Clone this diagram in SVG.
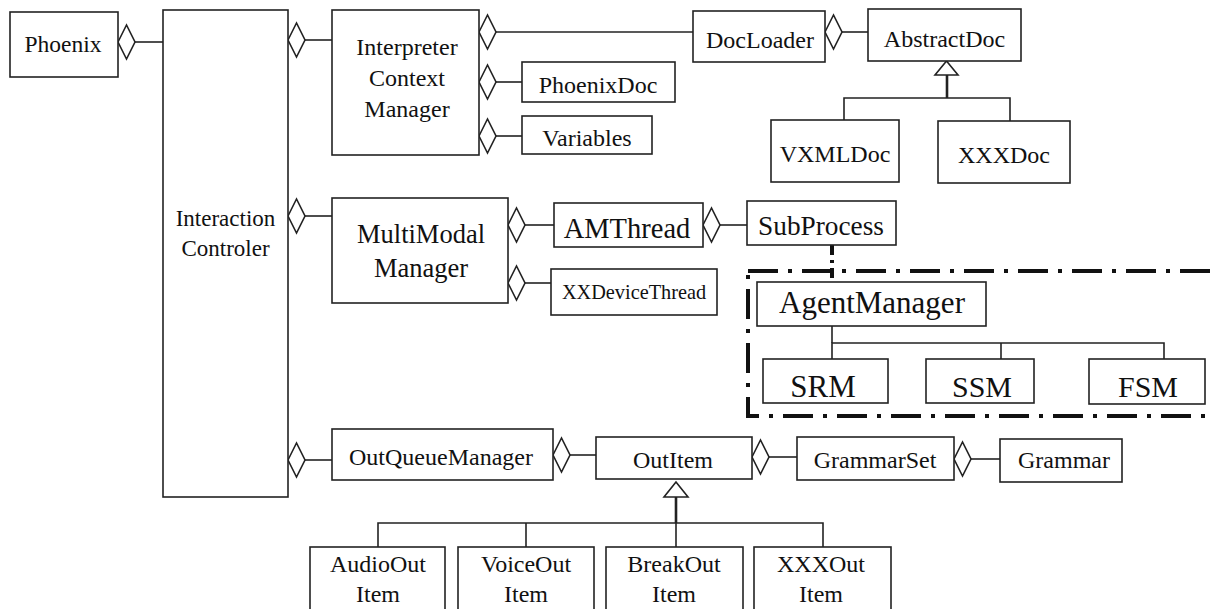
<svg xmlns="http://www.w3.org/2000/svg" xmlns:xlink="http://www.w3.org/1999/xlink" width="1213" height="609" viewBox="0 0 1213 609">
<style>
.box{fill:#fff;stroke:#222;stroke-width:1.6}
.t{font-family:"Liberation Serif","Times New Roman",serif;fill:#111;text-anchor:middle}
.ln{stroke:#222;stroke-width:1.6;fill:none}
.thick{stroke:#222;stroke-width:2.6;fill:none}
.dia{fill:#fff;stroke:#222;stroke-width:1.6}
.tri{fill:#fff;stroke:#222;stroke-width:1.6}
.dd{stroke:#111;stroke-width:4;fill:none;stroke-dasharray:30 10 4 10}
</style>
<defs>
<path id="dia" d="M0,0 L8.5,-17 L17,0 L8.5,17 Z"/>
</defs>
<rect width="1213" height="609" fill="#fff"/>

<g id="connectors">
<line class="ln" x1="135" y1="42" x2="163" y2="42"/>
<line class="ln" x1="305" y1="40" x2="332" y2="40"/>
<line class="ln" x1="496" y1="32" x2="693" y2="32"/>
<line class="ln" x1="496" y1="82" x2="522" y2="82"/>
<line class="ln" x1="496" y1="136" x2="522" y2="136"/>
<line class="ln" x1="842" y1="32" x2="868" y2="32"/>
<line class="ln" x1="305" y1="216" x2="332" y2="216"/>
<line class="ln" x1="525" y1="225" x2="554" y2="225"/>
<line class="ln" x1="720" y1="225" x2="747" y2="225"/>
<line class="ln" x1="525" y1="283" x2="551" y2="283"/>
<line class="ln" x1="305" y1="460" x2="332" y2="460"/>
<line class="ln" x1="570" y1="455" x2="596" y2="455"/>
<line class="ln" x1="769" y1="457" x2="797" y2="457"/>
<line class="ln" x1="971" y1="459" x2="1000" y2="459"/>
<!-- AbstractDoc inheritance -->
<line class="thick" x1="947" y1="75" x2="947" y2="98"/>
<polyline class="ln" points="844,120 844,98 1010,98 1010,121"/>
<polygon class="tri" points="946.5,61 935,75 958,75"/>
<!-- OutItem inheritance -->
<line class="thick" x1="676" y1="497" x2="676" y2="523"/>
<line class="ln" x1="676" y1="523" x2="676" y2="547"/>
<polyline class="ln" points="378,547 378,523 823,523 823,547"/>
<line class="ln" x1="526" y1="523" x2="526" y2="547"/>
<polygon class="tri" points="676,482 664,497 688,497"/>
<!-- AgentManager tree -->
<line class="ln" x1="832" y1="326" x2="832" y2="343"/>
<polyline class="ln" points="832,359 832,343 1164,343 1164,359"/>
<line class="ln" x1="1001" y1="343" x2="1001" y2="359"/>
<!-- SubProcess to AgentManager -->
<line stroke="#111" stroke-width="4" stroke-dasharray="10 5 3 5" x1="832" y1="245" x2="832" y2="282"/>
<!-- diamonds -->
<use href="#dia" class="dia" x="118" y="42"/>
<use href="#dia" class="dia" x="288" y="40"/>
<use href="#dia" class="dia" x="479" y="32"/>
<use href="#dia" class="dia" x="479" y="82"/>
<use href="#dia" class="dia" x="479" y="136"/>
<use href="#dia" class="dia" x="825" y="32"/>
<use href="#dia" class="dia" x="288" y="216"/>
<use href="#dia" class="dia" x="508" y="225"/>
<use href="#dia" class="dia" x="703" y="225"/>
<use href="#dia" class="dia" x="508" y="283"/>
<use href="#dia" class="dia" x="288" y="460"/>
<use href="#dia" class="dia" x="553" y="455"/>
<use href="#dia" class="dia" x="752" y="457"/>
<use href="#dia" class="dia" x="954" y="459"/>
</g>

<g id="agent-boundary">
<rect class="dd" x="748" y="271" width="500" height="145"/>
</g>

<g id="phoenix"><rect class="box" x="10" y="12" width="108" height="65"/><text class="t" x="63" y="52" font-size="23.5">Phoenix</text></g>
<g id="interaction-controler"><rect class="box" x="163" y="10" width="125" height="487"/><text class="t" x="225.5" y="226" font-size="23">Interaction</text><text class="t" x="225.5" y="256" font-size="23">Controler</text></g>
<g id="icm"><rect class="box" x="332" y="10" width="147" height="145"/><text class="t" x="407" y="55" font-size="24">Interpreter</text><text class="t" x="407" y="86" font-size="24">Context</text><text class="t" x="407" y="117" font-size="24">Manager</text></g>
<g id="phoenixdoc"><rect class="box" x="522" y="62" width="153" height="40"/><text class="t" x="598" y="93" font-size="24">PhoenixDoc</text></g>
<g id="variables"><rect class="box" x="522" y="116" width="130" height="38"/><text class="t" x="587" y="146" font-size="24">Variables</text></g>
<g id="docloader"><rect class="box" x="693" y="11" width="132" height="51"/><text class="t" x="760" y="48" font-size="24">DocLoader</text></g>
<g id="abstractdoc"><rect class="box" x="868" y="9" width="153" height="52"/><text class="t" x="944.5" y="47" font-size="24">AbstractDoc</text></g>
<g id="vxmldoc"><rect class="box" x="771" y="120" width="128" height="62"/><text class="t" x="835" y="162" font-size="24">VXMLDoc</text></g>
<g id="xxxdoc"><rect class="box" x="938" y="121" width="132" height="62"/><text class="t" x="1004" y="163" font-size="24">XXXDoc</text></g>
<g id="multimodal"><rect class="box" x="332" y="198" width="176" height="105"/><text class="t" x="421" y="243" font-size="26.5">MultiModal</text><text class="t" x="421" y="277" font-size="26.5">Manager</text></g>
<g id="amthread"><rect class="box" x="554" y="203" width="149" height="44"/><text class="t" x="627" y="238" font-size="28.5">AMThread</text></g>
<g id="xxdevicethread"><rect class="box" x="551" y="269" width="166" height="46"/><text class="t" x="634" y="299" font-size="20.3">XXDeviceThread</text></g>
<g id="subprocess"><rect class="box" x="747" y="201" width="149" height="44"/><text class="t" x="821" y="235" font-size="27.3">SubProcess</text></g>
<g id="agentmanager"><rect class="box" x="757" y="282" width="229" height="44"/><text class="t" x="872" y="313" font-size="31">AgentManager</text></g>
<g id="srm"><rect class="box" x="763" y="359" width="125" height="44"/><text class="t" x="823" y="397" font-size="31">SRM</text></g>
<g id="ssm"><rect class="box" x="926" y="359" width="108" height="44"/><text class="t" x="982" y="397" font-size="30">SSM</text></g>
<g id="fsm"><rect class="box" x="1089" y="359" width="116" height="45"/><text class="t" x="1148" y="397" font-size="30">FSM</text></g>
<g id="outqueuemanager"><rect class="box" x="332" y="429" width="221" height="51"/><text class="t" x="441" y="465" font-size="24">OutQueueManager</text></g>
<g id="outitem"><rect class="box" x="596" y="437" width="156" height="42"/><text class="t" x="673" y="468" font-size="24">OutItem</text></g>
<g id="grammarset"><rect class="box" x="797" y="437" width="157" height="43"/><text class="t" x="875" y="468" font-size="24">GrammarSet</text></g>
<g id="grammar"><rect class="box" x="1000" y="439" width="122" height="43"/><text class="t" x="1064" y="468" font-size="24">Grammar</text></g>
<g id="audiooutitem"><rect class="box" x="310" y="547" width="135" height="80"/><text class="t" x="378" y="572" font-size="24">AudioOut</text><text class="t" x="378" y="602" font-size="24">Item</text></g>
<g id="voiceoutitem"><rect class="box" x="458" y="547" width="136" height="80"/><text class="t" x="526" y="572" font-size="24">VoiceOut</text><text class="t" x="526" y="602" font-size="24">Item</text></g>
<g id="breakoutitem"><rect class="box" x="606" y="547" width="137" height="80"/><text class="t" x="674" y="572" font-size="24">BreakOut</text><text class="t" x="674" y="602" font-size="24">Item</text></g>
<g id="xxxoutitem"><rect class="box" x="754" y="547" width="137" height="80"/><text class="t" x="821" y="572" font-size="24">XXXOut</text><text class="t" x="821" y="602" font-size="24">Item</text></g>
</svg>
